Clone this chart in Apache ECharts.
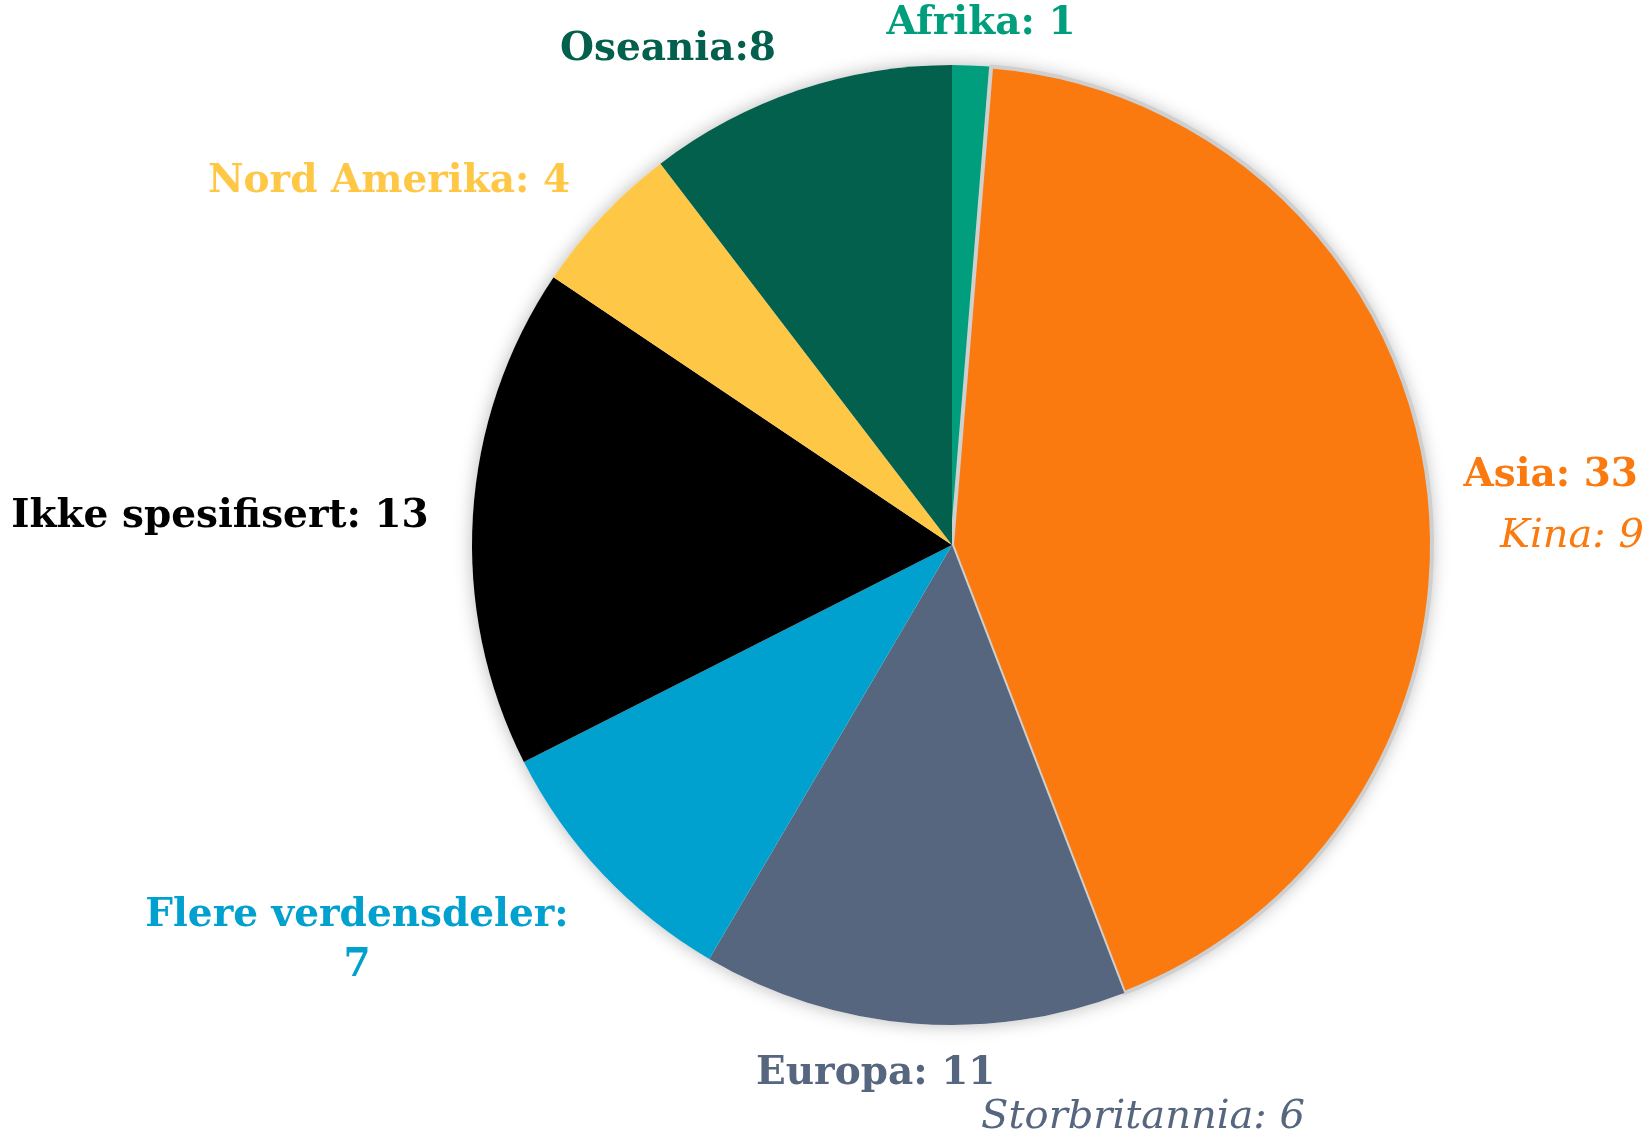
<!DOCTYPE html>
<html>
<head>
<meta charset="utf-8">
<script src="https://cdn.jsdelivr.net/npm/echarts@6/dist/echarts.min.js"></script>
<style>
  html, body { margin: 0; padding: 0; background: #fff; }
  #chart { width: 1650px; height: 1139px; }
</style>
</head>
<body>
<div id="chart"></div>
<script>
// data
const regions = ['Afrika', 'Asia', 'Europa', 'Flere verdensdeler', 'Ikke spesifisert', 'Nord Amerika', 'Oseania']
const counts = [1, 33, 11, 7, 13, 4, 8]
const subNotes = ['', 'Kina: 9', 'Storbritannia: 6', '', '', '', '']

const colors = ['#009E7C', '#FA7A10', '#56667F', '#00A1CE', '#000000', '#FEC846', '#02604C']

// label anchors: x plus top of text block
const labelPos = [
  { x: 981, y: -1, align: 'center' },
  { x: 1644, y: 451, align: 'right' },
  { x: 756, y: 1049, align: 'left', width: 549 },
  { x: 357, y: 891, align: 'center' },
  { x: 220, y: 492, align: 'center' },
  { x: 389, y: 157, align: 'center' },
  { x: 668, y: 25, align: 'center' },
]

const labelText = (i) => {
  const name = regions[i]
  const v = counts[i]
  if (i === 3) return `{b|${name}:}\n{b|${v}}`
  if (i === 6) return `{b|${name}:${v}}`
  let s = `{b|${name}: ${v}}`
  if (subNotes[i]) s += `\n{s|${subNotes[i]}}`
  return s
}

const chart = echarts.init(document.getElementById('chart'), null, { renderer: 'canvas' })

const center = [952, 545]
const radius = 480

chart.setOption({
  animation: false,
  series: [
    {
      type: 'pie',
      silent: true,
      center,
      radius,
      label: { show: false },
      itemStyle: { color: '#fff', shadowBlur: 18, shadowColor: 'rgba(0,0,0,0.28)' },
      data: [{ value: 1 }],
    },
    {
      type: 'pie',
      center,
      radius,
      startAngle: 90,
      clockwise: true,
      labelLine: { show: false },
      data: regions.map((name, i) => ({
        name,
        value: counts[i],
        itemStyle: i === 1
          ? { color: colors[i], borderColor: '#cfcfcf', borderWidth: 4 }
          : { color: colors[i], borderWidth: 0 },
        label: {
          show: true,
          overflow: 'none',
          formatter: () => labelText(i),
          color: colors[i],
          align: labelPos[i].align,
          width: labelPos[i].width,
          rich: {
            b: {
              fontFamily: 'DejaVu Serif',
              fontWeight: 'bold',
              fontSize: 39,
              color: colors[i],
              lineHeight: 50,
              align: i === 2 ? 'left' : labelPos[i].align,
              padding: i === 1 ? [0, 6, 0, 0] : 0,
            },
            s: {
              fontFamily: 'DejaVu Serif',
              fontStyle: 'italic',
              fontSize: 40,
              color: colors[i],
              lineHeight: i === 1 ? 72 : 38,
              align: 'right',
            },
          },
        },
      })),
      labelLayout: (params) => {
        const p = labelPos[params.dataIndex]
        return { x: p.x, y: p.y, align: p.align, verticalAlign: 'top' }
      },
    },
  ],
})
</script>
</body>
</html>
